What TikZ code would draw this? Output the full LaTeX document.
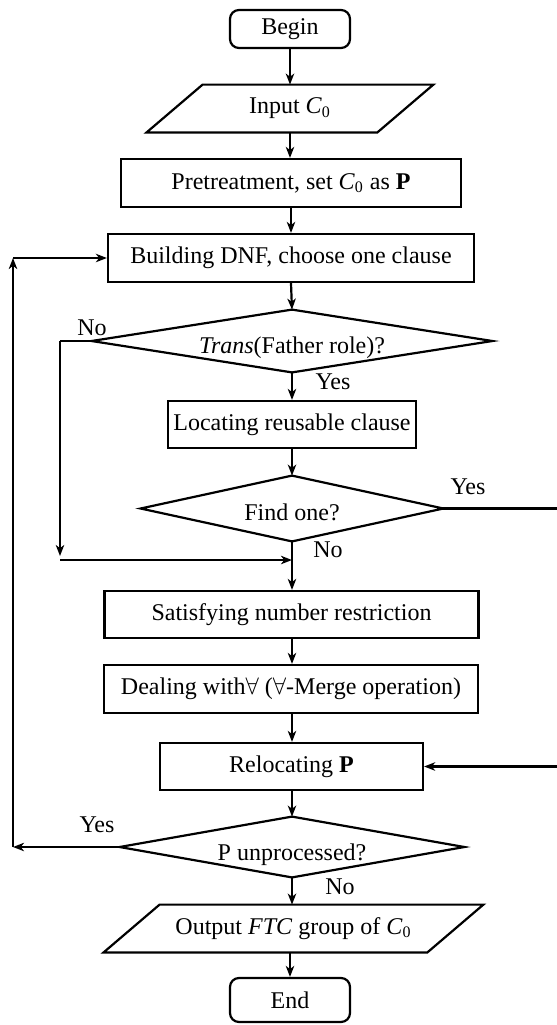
\documentclass[tikz,border=0pt]{standalone}
\usepackage{fontspec}
\setmainfont{Liberation Serif}
\usetikzlibrary{arrows.meta,calc}
\begin{document}
\begin{tikzpicture}[x=0.5pt,y=-0.5pt,
  every node/.style={font=\fontsize{12pt}{14pt}\selectfont, inner sep=0pt},
  line/.style={line width=1.1pt},
  arr/.style={line width=1.1pt,-{Stealth[length=5.5pt,width=4.2pt,inset=1.6pt]}},
  box/.style={draw,line width=1.1pt,rectangle,minimum height=24pt},
  term/.style={draw,line width=1.1pt,rectangle,rounded corners=4.5pt,minimum width=60pt,minimum height=19pt},
  ghost/.style={rectangle,minimum height=24pt},
  lbl/.style={font=\fontsize{12pt}{14pt}\selectfont}
]
\useasboundingbox (0,0) rectangle (557,1025);

% nodes
\node[term] (begin) at (290,29) {Begin};
\node[ghost,minimum width=115pt,minimum height=23.5pt] (input) at (290,108.5) {Input \textit{C}\textsubscript{0}};
\node[box,minimum width=170pt] (pre) at (291,183) {Pretreatment, set \textit{C}\textsubscript{0} as \textbf{P}};
\node[box,minimum width=183pt] (build) at (291,258) {Building DNF, choose one clause};
\node[ghost,minimum width=200pt,minimum height=31pt] (trans) at (292,341) {};
\node at (292,348) {\textit{Trans}(Father role)?};
\node[box,minimum width=124pt,minimum height=23.5pt] (loc) at (292,424.5) {Locating reusable clause};
\node[ghost,minimum width=151pt,minimum height=32.5pt] (find) at (292,508.5) {};
\node at (292,512) {Find one?};
\node[box,minimum width=187pt,minimum height=23.5pt] (sat) at (291.5,614.5) {Satisfying number restriction};
\node[box,minimum width=187pt] (deal) at (291,689) {Dealing with$\forall$ ($\forall$-Merge operation)};
\node[box,minimum width=131.5pt,minimum height=23.5pt] (reloc) at (291.5,766.5) {Relocating \textbf{P}};
\node[ghost,minimum width=172pt,minimum height=30pt] (punp) at (292,847) {};
\node at (292,855) {P unprocessed?};
\node[ghost,minimum width=161.5pt,minimum height=23.5pt] (out) at (293.5,928.5) {Output \textit{FTC} group of \textit{C}\textsubscript{0}};
\node[term,minimum height=22pt] (end) at (290,1000) {End};

% parallelograms and diamonds
\draw[line] ($(input.south west)+(-14pt,0)$) -- ($(input.south east)+(-14pt,0)$) -- ($(input.north east)+(14pt,0)$) -- ($(input.north west)+(14pt,0)$) -- cycle;
\draw[line] ($(out.south west)+(-14pt,0)$) -- ($(out.south east)+(-14pt,0)$) -- ($(out.north east)+(14pt,0)$) -- ($(out.north west)+(14pt,0)$) -- cycle;
\draw[line] (trans.north) -- (trans.east) -- (trans.south) -- (trans.west) -- cycle;
\draw[line] (find.north) -- (find.east) -- (find.south) -- (find.west) -- cycle;
\draw[line] (punp.north) -- (punp.east) -- (punp.south) -- (punp.west) -- cycle;

% coordinates for loops
\coordinate (nocorner) at (60,341);
\coordinate (nodown) at (60,560);
\coordinate (merge) at (292,560);
\coordinate (yesright) at (559,508.5);
\coordinate (yesdown) at (559,766.5);
\coordinate (loopbot) at (13,847);
\coordinate (looptop) at (13,258);

% main flow
\draw[arr] (begin.south) -- (input.north);
\draw[arr] (input.south) -- (pre.north -| input.south);
\draw[arr] (pre.south) -- (build.north);
\draw[arr] (build.south) -- (trans.north);
\draw[arr] (trans.south) -- (loc.north);
\draw[arr] (loc.south) -- (find.north);
\draw[arr] (find.south) -- (sat.north -| find.south);
\draw[arr] (sat.south -| find.south) -- (deal.north -| find.south);
\draw[arr] (deal.south -| find.south) -- (reloc.north -| find.south);
\draw[arr] (reloc.south -| find.south) -- (punp.north);
\draw[arr] (punp.south) -- (out.north -| punp.south);
\draw[arr] (out.south -| end.north) -- (end.north);

% No branch of Trans
\draw[line] (trans.west) -- (nocorner);
\draw[arr] (nocorner) -- ($(nodown)+(0,-4)$);
\draw[arr] (nodown) -- (merge);

% Yes branch of Find one
\draw[line] (find.east) -- (yesright) -- (yesdown);
\draw[arr] (yesdown) -- (reloc.east);

% loop back
\draw[arr] (punp.west) -- (loopbot);
\draw[arr] (loopbot) -- (looptop);
\draw[arr] (looptop) -- (build.west);

% labels
\node[lbl] (l1) at (92,328) {No};
\node[lbl] (l2) at (333,382) {Yes};
\node[lbl] (l3) at (468,487) {Yes};
\node[lbl] (l4) at (328,550) {No};
\node[lbl] (l5) at (97,825) {Yes};
\node[lbl] (l6) at (340,887) {No};
\end{tikzpicture}
\end{document}
